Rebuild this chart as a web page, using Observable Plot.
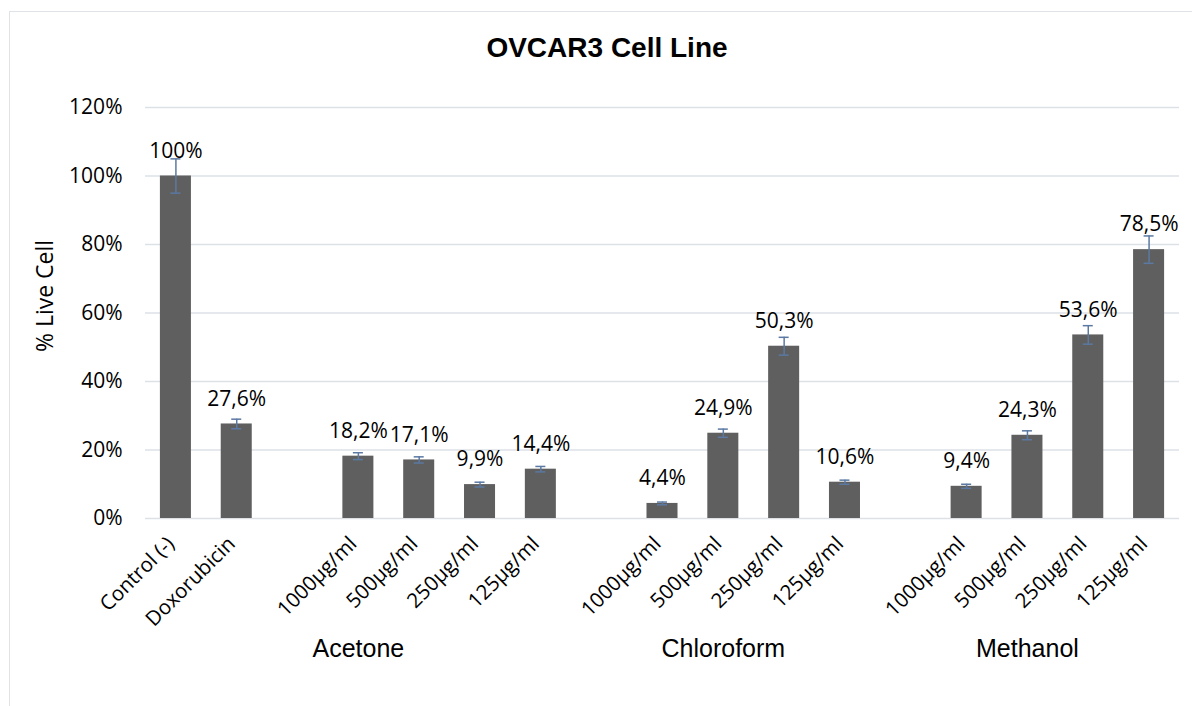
<!DOCTYPE html>
<html><head><meta charset="utf-8">
<script src="https://cdn.jsdelivr.net/npm/d3@7"></script>
<script src="https://cdn.jsdelivr.net/npm/@observablehq/plot@0.6"></script>
<style>
body{margin:0;background:#fff;overflow:hidden;}
#wrap{position:relative;width:1192px;height:706px;overflow:hidden;}
#border{position:absolute;left:9px;top:11px;width:1220px;height:740px;border:1.5px solid #dfe3e8;box-sizing:border-box;}
#title{position:absolute;left:0;top:34px;width:1214px;text-align:center;font:bold 28px "Liberation Sans",Arial,sans-serif;line-height:28px;color:#000;z-index:2;}
#chart svg{position:absolute;left:0;top:0;}
</style></head><body>
<div id="wrap"><div id="border"></div><div id="title">OVCAR3 Cell Line</div><div id="chart"></div></div>
<script>
const controls = ["Control (-)", "Doxorubicin"];
const controlValues = [100, 27.6];
const controlErrors = [5.0, 1.4];
const solvents = ["Acetone", "Chloroform", "Methanol"];
const concentrations = ["1000µg/ml", "500µg/ml", "250µg/ml", "125µg/ml"];
const acetoneValues = [18.2, 17.1, 9.9, 14.4];
const acetoneErrors = [1.0, 0.9, 0.7, 0.8];
const chloroformValues = [4.4, 24.9, 50.3, 10.6];
const chloroformErrors = [0.4, 1.2, 2.6, 0.6];
const methanolValues = [9.4, 24.3, 53.6, 78.5];
const methanolErrors = [0.6, 1.3, 2.7, 4.0];
const groupLabelAt = ["1000µg/ml", "500µg/ml", "500µg/ml"];
const yTicks = [0, 20, 40, 60, 80, 100, 120];
const yLabel = "% Live Cell";

const rows = [];
const keys = [];
controls.forEach((c, i) => {
  rows.push({key: c, label: c, value: controlValues[i], err: controlErrors[i]});
  keys.push(c);
});
const solventValues = [acetoneValues, chloroformValues, methanolValues];
const solventErrors = [acetoneErrors, chloroformErrors, methanolErrors];
const groups = [];
solvents.forEach((s, si) => {
  keys.push("gap-" + s);
  concentrations.forEach((c, ci) => {
    const key = s + " " + c;
    keys.push(key);
    rows.push({key, label: c, value: solventValues[si][ci], err: solventErrors[si][ci]});
  });
  groups.push({name: s, key: s + " " + groupLabelAt[si]});
});
const labelOf = new Map(rows.map(d => [d.key, d.label]));
const fmt = v => (Number.isInteger(v) ? String(v) : v.toFixed(1).replace(".", ",")) + "%";
const errColor = "#5b79a3";

const chart = Plot.plot({
  width: 1192, height: 706,
  marginLeft: 145, marginRight: 13, marginTop: 107, marginBottom: 188,
  style: {fontFamily: "'Open Sans', sans-serif", fontSize: "21px", color: "#000", background: "transparent", overflow: "visible"},
  x: {domain: keys, paddingInner: 0.49, paddingOuter: 0.245, round: false},
  y: {domain: [0, 120]},
  marks: [
    Plot.ruleY(yTicks, {stroke: "#dde1e6", strokeWidth: 1.5}),
    Plot.barY(rows, {x: "key", y: "value", fill: "#5f5f5f"}),
    Plot.ruleX(rows, {x: "key", y1: d => d.value - d.err, y2: d => d.value + d.err, stroke: errColor, strokeWidth: 1.5}),
    Plot.tickY(rows, {x: "key", y: d => d.value + d.err, insetLeft: 10.5, insetRight: 10.5, stroke: errColor, strokeWidth: 1.5}),
    Plot.tickY(rows, {x: "key", y: d => d.value - d.err, insetLeft: 10.5, insetRight: 10.5, stroke: errColor, strokeWidth: 1.5}),
    Plot.text(rows, {x: "key", y: "value", text: d => fmt(d.value), dy: -25, fontSize: 21, fill: "#000"}),
    Plot.axisY({ticks: yTicks, tickFormat: d => d + "%", tickSize: 0, tickPadding: 23, label: null, fontSize: 21, fill: "#000"}),
    Plot.axisX({tickFormat: k => labelOf.get(k) || "", tickRotate: -45, tickSize: 0, tickPadding: 22, dx: -5, label: null, fontSize: 20.5, fill: "#000"}),
    Plot.text(groups, {x: "key", text: "name", frameAnchor: "bottom", dy: 138, fontFamily: "'Liberation Sans', Arial, sans-serif", fontSize: 25, fill: "#000"}),
    Plot.text([yLabel], {frameAnchor: "left", textAnchor: "middle", rotate: -90, dx: -100, dy: -17, fontSize: 23, fill: "#000"})
  ]
});
document.getElementById("chart").appendChild(chart);
</script>
</body></html>
